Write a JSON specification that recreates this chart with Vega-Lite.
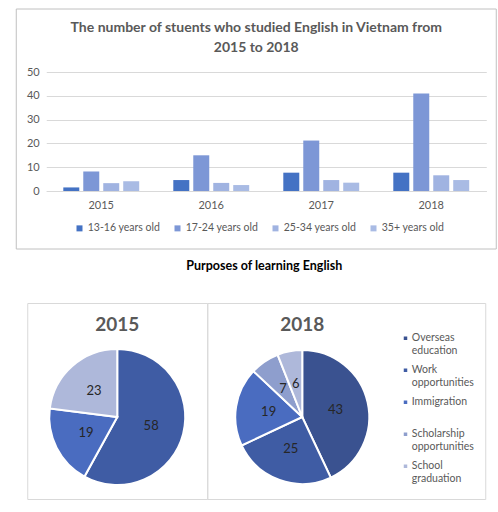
{
  "$schema": "https://vega.github.io/schema/vega-lite/v6.json",
  "padding": {"left": 15, "top": 8, "right": 0, "bottom": 0},
  "center": true,
  "spacing": 10,
  "datasets": {
    "students": [
      {"year": "2015", "age": "13-16 years old", "students": 1.5},
      {"year": "2015", "age": "17-24 years old", "students": 8.2},
      {"year": "2015", "age": "25-34 years old", "students": 3.3},
      {"year": "2015", "age": "35+ years old", "students": 4.1},
      {"year": "2016", "age": "13-16 years old", "students": 4.6},
      {"year": "2016", "age": "17-24 years old", "students": 15},
      {"year": "2016", "age": "25-34 years old", "students": 3.4},
      {"year": "2016", "age": "35+ years old", "students": 2.5},
      {"year": "2017", "age": "13-16 years old", "students": 7.7},
      {"year": "2017", "age": "17-24 years old", "students": 21.2},
      {"year": "2017", "age": "25-34 years old", "students": 4.6},
      {"year": "2017", "age": "35+ years old", "students": 3.5},
      {"year": "2018", "age": "13-16 years old", "students": 7.7},
      {"year": "2018", "age": "17-24 years old", "students": 41},
      {"year": "2018", "age": "25-34 years old", "students": 6.6},
      {"year": "2018", "age": "35+ years old", "students": 4.6}
    ],
    "purposes": [
      {"year": "2015", "purpose": "Work opportunities", "share": 58},
      {"year": "2015", "purpose": "Immigration", "share": 19},
      {"year": "2015", "purpose": "School graduation", "share": 23},
      {"year": "2018", "purpose": "Overseas education", "share": 43},
      {"year": "2018", "purpose": "Work opportunities", "share": 25},
      {"year": "2018", "purpose": "Immigration", "share": 19},
      {"year": "2018", "purpose": "Scholarship opportunities", "share": 7},
      {"year": "2018", "purpose": "School graduation", "share": 6}
    ]
  },
  "resolve": {"scale": {"color": "independent"}, "legend": {"color": "independent"}},
  "vconcat": [
    {
      "width": 480,
      "height": 240,
      "view": {"stroke": null},
      "title": {
        "text": ["The number of stuents who studied English in Vietnam from", "2015 to 2018"],
        "offset": -46,
        "fontSize": 14,
        "lineHeight": 20,
        "color": "#595959"
      },
      "resolve": {"scale": {"x": "independent", "y": "independent"}},
      "layer": [
        {
          "data": {"name": "students"},
          "mark": {"type": "bar"},
          "encoding": {
            "x": {
              "field": "year",
              "type": "nominal",
              "title": null,
              "scale": {"range": [30, 470], "paddingInner": 0.31, "paddingOuter": 0.155},
              "axis": {"orient": "bottom", "offset": -58, "labelAngle": 0, "ticks": false, "domainColor": "#d9d9d9", "labelPadding": 8}
            },
            "xOffset": {
              "field": "age",
              "type": "nominal",
              "scale": {"paddingInner": 0.2, "paddingOuter": 0}
            },
            "y": {
              "field": "students",
              "type": "quantitative",
              "title": null,
              "scale": {"domain": [0, 50], "range": [182, 63]},
              "axis": {"orient": "left", "offset": -25, "values": [0, 10, 20, 30, 40, 50], "domain": false, "ticks": false, "gridColor": "#d9d9d9", "labelPadding": 2}
            },
            "color": {
              "field": "age",
              "type": "nominal",
              "scale": {"range": ["#4472c4", "#7d97d6", "#a0b3e1", "#a9bbe4"]},
              "legend": {
                "title": null,
                "orient": "none",
                "direction": "horizontal",
                "columns": 4,
                "legendX": 58,
                "legendY": 214,
                "symbolType": "square",
                "symbolSize": 36,
                "labelOffset": 3,
                "labelFontSize": 10.5,
                "columnPadding": 12,
                "gridAlign": "all"
              }
            }
          }
        },
        {
          "data": {"values": [{}]},
          "mark": {"type": "rect", "fill": "transparent", "stroke": "#c0c0c0", "strokeWidth": 1},
          "encoding": {
            "x": {"value": 0},
            "x2": {"value": "width"},
            "y": {"value": 0},
            "y2": {"value": "height"}
          }
        }
      ]
    },
    {
      "title": {
        "text": "Purposes of learning English",
        "fontSize": 12.5,
        "color": "#000000",
        "offset": 30,
        "dx": 8
      },
      "data": {"name": "purposes"},
      "transform": [{"window": [{"op": "row_number", "as": "i"}]}],
      "spacing": 0,
      "bounds": "flush",
      "hconcat": [
        {
          "width": 180,
          "height": 196,
          "view": {"stroke": "#d9d9d9", "strokeWidth": 1},
          "title": {"text": "2015", "fontSize": 19, "color": "#595959", "offset": -32},
          "transform": [{"filter": "datum.year == '2015'"}],
          "encoding": {
            "theta": {"field": "share", "type": "quantitative", "stack": true},
            "order": {"field": "i", "type": "quantitative"},
            "color": {
              "field": "purpose",
              "type": "nominal",
              "scale": {
                "domain": ["Overseas education", "Work opportunities", "Immigration", "Scholarship opportunities", "School graduation"],
                "range": ["#3a5290", "#3f5ca4", "#4a6cc0", "#8e9ecd", "#aeb8da"]
              },
              "legend": {
                "title": null,
                "orient": "none",
                "legendX": 373,
                "legendY": 30,
                "symbolType": "square",
                "symbolSize": 25,
                "labelOffset": 1,
                "gridAlign": "all",
                "rowPadding": 7,
                "labelExpr": "split(datum.label, ' ')",
                "labelFontSize": 10.5
              }
            }
          },
          "layer": [
            {"mark": {"type": "arc", "outerRadius": 68, "stroke": "#ffffff", "strokeWidth": 2, "yOffset": 16}},
            {
              "mark": {"type": "text", "radius": 35, "yOffset": 16, "fontSize": 13},
              "encoding": {"text": {"field": "share", "type": "quantitative"}, "color": {"value": "#262626"}}
            }
          ]
        },
        {
          "width": 278,
          "height": 196,
          "view": {"stroke": "#d9d9d9", "strokeWidth": 1},
          "title": {"text": "2018", "fontSize": 19, "color": "#595959", "offset": -32, "dx": -44},
          "transform": [{"filter": "datum.year == '2018'"}],
          "encoding": {
            "theta": {"field": "share", "type": "quantitative", "stack": true},
            "order": {"field": "i", "type": "quantitative"},
            "color": {
              "field": "purpose",
              "type": "nominal",
              "scale": {
                "domain": ["Overseas education", "Work opportunities", "Immigration", "Scholarship opportunities", "School graduation"],
                "range": ["#3a5290", "#3f5ca4", "#4a6cc0", "#8e9ecd", "#aeb8da"]
              },
              "legend": {
                "title": null,
                "orient": "none",
                "legendX": 373,
                "legendY": 30,
                "symbolType": "square",
                "symbolSize": 25,
                "labelOffset": 1,
                "gridAlign": "all",
                "rowPadding": 7,
                "labelExpr": "split(datum.label, ' ')",
                "labelFontSize": 10.5
              }
            }
          },
          "layer": [
            {"mark": {"type": "arc", "outerRadius": 67, "stroke": "#ffffff", "strokeWidth": 2, "xOffset": -44, "yOffset": 16}},
            {
              "mark": {"type": "text", "radius": 34, "xOffset": -44, "yOffset": 16, "fontSize": 13},
              "encoding": {"text": {"field": "share", "type": "quantitative"}, "color": {"value": "#262626"}}
            }
          ]
        }
      ]
    }
  ],
  "config": {
    "font": "Lato",
    "title": {"font": "Lato", "fontWeight": "bold", "anchor": "middle"},
    "axis": {"labelFont": "Lato", "labelFontSize": 11, "labelColor": "#595959"},
    "legend": {"labelFont": "Lato", "labelFontSize": 11, "labelColor": "#595959"}
  }
}
